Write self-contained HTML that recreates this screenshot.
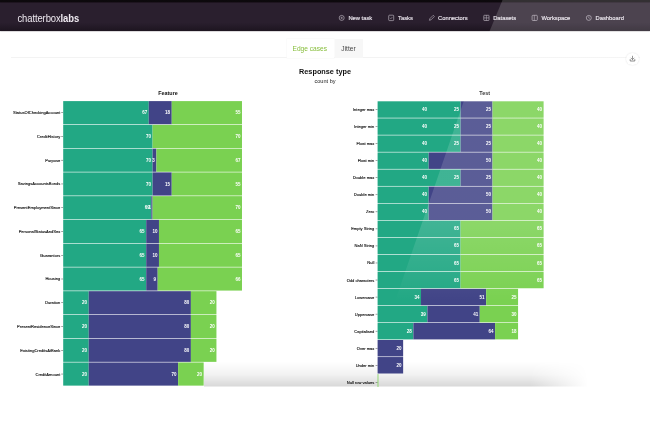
<!DOCTYPE html>
<html><head><meta charset="utf-8"><title>chatterboxlabs</title>
<style>
html,body{margin:0;padding:0;background:#fff;}
body{width:650px;height:433px;overflow:hidden;position:relative;font-family:"Liberation Sans",sans-serif;}
#screen{position:absolute;left:0;top:0;width:650px;height:386.5px;overflow:hidden;background:#fff;}
#blur{position:absolute;left:0;top:0;width:650px;height:433px;filter:blur(0.35px);}
#bezel{position:absolute;left:0;top:0;width:650px;height:3.4px;background:linear-gradient(#0c090c 0%,#0e0a0e 55%,#2a1f2e 100%);}
#hdr{position:absolute;left:0;top:3.3px;width:650px;height:28.2px;box-shadow:0 0.4px 1.2px rgba(20,10,25,0.7);background:linear-gradient(#2a1f2e 0%,#2a1f2e 70%,#1d1520 100%);}
#logo{position:absolute;left:17.5px;top:11.5px;font-size:9.45px;transform:scaleY(1.12);transform-origin:50% 60%;color:#eee9f0;letter-spacing:-0.1px;line-height:14px;white-space:nowrap;}
#logo b{font-weight:bold;}
.nav{position:absolute;top:12.9px;font-size:5.8px;-webkit-text-stroke:0.15px #e9e4ec;line-height:10px;color:#e9e4ec;white-space:nowrap;}
.tabs{position:absolute;left:11px;top:57.1px;width:629px;height:1px;background:#f3f3f3;}
.tab{position:absolute;top:39.2px;height:18.5px;font-size:6.6px;line-height:20.5px;text-align:center;white-space:nowrap;}
#t1{left:287px;width:47px;color:#86bd3a;box-shadow:0 0 0 0.5px #f7f7f7;background:#fff;text-indent:-1.5px;}
#t2{left:334.5px;width:28px;color:#444;background:#f7f7f7;}
#ttl{position:absolute;left:0;width:650px;top:66.3px;text-align:center;font-weight:bold;font-size:7.3px;line-height:11px;color:#111;}
#sub{position:absolute;left:0;width:650px;top:76.5px;text-align:center;font-size:5.6px;line-height:9px;color:#222;}
svg{position:absolute;left:0;top:0;}
.lb{font-size:4.05px;fill:#111;stroke:#111;stroke-width:0.12px;text-anchor:end;font-family:"Liberation Sans",sans-serif;}
.vl{font-size:4.5px;fill:#fff;text-anchor:end;font-weight:bold;font-family:"Liberation Sans",sans-serif;}
.ct{font-size:5.4px;fill:#111;text-anchor:middle;font-weight:bold;font-family:"Liberation Sans",sans-serif;}
#dl{position:absolute;left:626.3px;top:52.5px;width:12.4px;height:12.4px;border-radius:50%;background:#fff;box-shadow:0 0 1.5px rgba(0,0,0,0.16);}
</style></head><body>
<div id="blur"><div id="screen">
<div class="tabs"></div>
<div class="tab" id="t1">Edge cases</div>
<div class="tab" id="t2">Jitter</div>
<div id="dl"></div>
<div id="ttl">Response type</div>
<div id="sub">count by</div>
<svg width="650" height="433" viewBox="0 0 650 433">
<defs>
<linearGradient id="bs" x1="0" y1="0" x2="0" y2="1"><stop offset="0" stop-color="#000" stop-opacity="0"/><stop offset="0.5" stop-color="#000" stop-opacity="0.05"/><stop offset="1" stop-color="#000" stop-opacity="0.155"/></linearGradient>
<linearGradient id="bx" x1="0" y1="0" x2="1" y2="0"><stop offset="0" stop-color="#fff"/><stop offset="0.85" stop-color="#fff"/><stop offset="1" stop-color="#000"/></linearGradient>
<mask id="bm" maskUnits="userSpaceOnUse" x="200" y="355" width="400" height="40"><rect x="204" y="355" width="384" height="40" fill="url(#bx)"/></mask>
</defs>
<rect x="204" y="362" width="384" height="24.5" fill="url(#bs)" mask="url(#bm)"/>
<text x="168" y="95.0" class="ct">Feature</text>
<text x="484.7" y="95.2" class="ct">Test</text>
<text x="60.3" y="114.1" class="lb">StatusOfCheckingAccount</text>
<rect x="61.2" y="112.43" width="2.0" height="0.5" fill="#444"/>
<rect x="63.20" y="101.10" width="85.56" height="23.16" fill="#22a884"/>
<rect x="148.76" y="101.10" width="22.99" height="23.16" fill="#414487"/>
<rect x="171.75" y="101.10" width="70.23" height="23.16" fill="#7ad151"/>
<text x="147.2" y="114.2" class="vl">67</text>
<text x="170.1" y="114.2" class="vl">18</text>
<text x="240.4" y="114.2" class="vl">55</text>
<text x="60.3" y="137.9" class="lb">CreditHistory</text>
<rect x="61.2" y="136.19" width="2.0" height="0.5" fill="#444"/>
<rect x="63.20" y="124.86" width="89.39" height="23.16" fill="#22a884"/>
<rect x="152.59" y="124.86" width="89.39" height="23.16" fill="#7ad151"/>
<text x="151.0" y="137.9" class="vl">70</text>
<text x="240.4" y="137.9" class="vl">70</text>
<text x="60.3" y="161.6" class="lb">Purpose</text>
<rect x="61.2" y="159.95" width="2.0" height="0.5" fill="#444"/>
<rect x="63.20" y="148.62" width="89.39" height="23.16" fill="#22a884"/>
<rect x="152.59" y="148.62" width="3.83" height="23.16" fill="#414487"/>
<rect x="156.42" y="148.62" width="85.56" height="23.16" fill="#7ad151"/>
<text x="151.0" y="161.7" class="vl">70</text>
<text x="154.8" y="161.7" class="vl">3</text>
<text x="240.4" y="161.7" class="vl">67</text>
<text x="60.3" y="185.4" class="lb">SavingsAccountsBonds</text>
<rect x="61.2" y="183.71" width="2.0" height="0.5" fill="#444"/>
<rect x="63.20" y="172.38" width="89.39" height="23.16" fill="#22a884"/>
<rect x="152.59" y="172.38" width="19.15" height="23.16" fill="#414487"/>
<rect x="171.75" y="172.38" width="70.23" height="23.16" fill="#7ad151"/>
<text x="151.0" y="185.5" class="vl">70</text>
<text x="170.1" y="185.5" class="vl">15</text>
<text x="240.4" y="185.5" class="vl">55</text>
<text x="60.3" y="209.2" class="lb">PresentEmploymentSince</text>
<rect x="61.2" y="207.47" width="2.0" height="0.5" fill="#444"/>
<rect x="63.20" y="196.14" width="88.11" height="23.16" fill="#22a884"/>
<rect x="151.31" y="196.14" width="1.28" height="23.16" fill="#414487"/>
<rect x="152.59" y="196.14" width="89.39" height="23.16" fill="#7ad151"/>
<text x="149.7" y="209.2" class="vl">69</text>
<text x="151.0" y="209.2" class="vl">1</text>
<text x="240.4" y="209.2" class="vl">70</text>
<text x="60.3" y="232.9" class="lb">PersonalStatusAndSex</text>
<rect x="61.2" y="231.23" width="2.0" height="0.5" fill="#444"/>
<rect x="63.20" y="219.90" width="83.00" height="23.16" fill="#22a884"/>
<rect x="146.20" y="219.90" width="12.77" height="23.16" fill="#414487"/>
<rect x="158.97" y="219.90" width="83.00" height="23.16" fill="#7ad151"/>
<text x="144.6" y="233.0" class="vl">65</text>
<text x="157.4" y="233.0" class="vl">10</text>
<text x="240.4" y="233.0" class="vl">65</text>
<text x="60.3" y="256.7" class="lb">Guarantors</text>
<rect x="61.2" y="254.99" width="2.0" height="0.5" fill="#444"/>
<rect x="63.20" y="243.66" width="83.00" height="23.16" fill="#22a884"/>
<rect x="146.20" y="243.66" width="12.77" height="23.16" fill="#414487"/>
<rect x="158.97" y="243.66" width="83.00" height="23.16" fill="#7ad151"/>
<text x="144.6" y="256.7" class="vl">65</text>
<text x="157.4" y="256.7" class="vl">10</text>
<text x="240.4" y="256.7" class="vl">65</text>
<text x="60.3" y="280.4" class="lb">Housing</text>
<rect x="61.2" y="278.75" width="2.0" height="0.5" fill="#444"/>
<rect x="63.20" y="267.42" width="83.00" height="23.16" fill="#22a884"/>
<rect x="146.20" y="267.42" width="11.49" height="23.16" fill="#414487"/>
<rect x="157.70" y="267.42" width="84.28" height="23.16" fill="#7ad151"/>
<text x="144.6" y="280.5" class="vl">65</text>
<text x="156.1" y="280.5" class="vl">9</text>
<text x="240.4" y="280.5" class="vl">66</text>
<text x="60.3" y="304.2" class="lb">Duration</text>
<rect x="61.2" y="302.51" width="2.0" height="0.5" fill="#444"/>
<rect x="63.20" y="291.18" width="25.54" height="23.16" fill="#22a884"/>
<rect x="88.74" y="291.18" width="102.16" height="23.16" fill="#414487"/>
<rect x="190.90" y="291.18" width="25.54" height="23.16" fill="#7ad151"/>
<text x="87.1" y="304.3" class="vl">20</text>
<text x="189.3" y="304.3" class="vl">80</text>
<text x="214.8" y="304.3" class="vl">20</text>
<text x="60.3" y="328.0" class="lb">PresentResidenceSince</text>
<rect x="61.2" y="326.27" width="2.0" height="0.5" fill="#444"/>
<rect x="63.20" y="314.94" width="25.54" height="23.16" fill="#22a884"/>
<rect x="88.74" y="314.94" width="102.16" height="23.16" fill="#414487"/>
<rect x="190.90" y="314.94" width="25.54" height="23.16" fill="#7ad151"/>
<text x="87.1" y="328.0" class="vl">20</text>
<text x="189.3" y="328.0" class="vl">80</text>
<text x="214.8" y="328.0" class="vl">20</text>
<text x="60.3" y="351.7" class="lb">ExistingCreditsAtBank</text>
<rect x="61.2" y="350.03" width="2.0" height="0.5" fill="#444"/>
<rect x="63.20" y="338.70" width="25.54" height="23.16" fill="#22a884"/>
<rect x="88.74" y="338.70" width="102.16" height="23.16" fill="#414487"/>
<rect x="190.90" y="338.70" width="25.54" height="23.16" fill="#7ad151"/>
<text x="87.1" y="351.8" class="vl">20</text>
<text x="189.3" y="351.8" class="vl">80</text>
<text x="214.8" y="351.8" class="vl">20</text>
<text x="60.3" y="375.5" class="lb">CreditAmount</text>
<rect x="61.2" y="373.79" width="2.0" height="0.5" fill="#444"/>
<rect x="63.20" y="362.46" width="25.54" height="23.16" fill="#22a884"/>
<rect x="88.74" y="362.46" width="89.39" height="23.16" fill="#414487"/>
<rect x="178.13" y="362.46" width="25.54" height="23.16" fill="#7ad151"/>
<text x="87.1" y="375.5" class="vl">20</text>
<text x="176.5" y="375.5" class="vl">70</text>
<text x="202.1" y="375.5" class="vl">20</text>
<text x="374.3" y="111.0" class="lb">Integer max</text>
<rect x="375.6" y="109.28" width="2.0" height="0.5" fill="#444"/>
<rect x="377.60" y="101.30" width="83.00" height="16.45" fill="#22a884"/>
<rect x="460.61" y="101.30" width="31.92" height="16.45" fill="#414487"/>
<rect x="492.53" y="101.30" width="51.08" height="16.45" fill="#7ad151"/>
<text x="427.1" y="111.0" class="vl">40</text>
<text x="459.0" y="111.0" class="vl">25</text>
<text x="490.9" y="111.0" class="vl">25</text>
<text x="542.0" y="111.0" class="vl">40</text>
<text x="374.3" y="128.0" class="lb">Integer min</text>
<rect x="375.6" y="126.33" width="2.0" height="0.5" fill="#444"/>
<rect x="377.60" y="118.35" width="83.00" height="16.45" fill="#22a884"/>
<rect x="460.61" y="118.35" width="31.92" height="16.45" fill="#414487"/>
<rect x="492.53" y="118.35" width="51.08" height="16.45" fill="#7ad151"/>
<text x="427.1" y="128.1" class="vl">40</text>
<text x="459.0" y="128.1" class="vl">25</text>
<text x="490.9" y="128.1" class="vl">25</text>
<text x="542.0" y="128.1" class="vl">40</text>
<text x="374.3" y="145.1" class="lb">Float max</text>
<rect x="375.6" y="143.38" width="2.0" height="0.5" fill="#444"/>
<rect x="377.60" y="135.40" width="83.00" height="16.45" fill="#22a884"/>
<rect x="460.61" y="135.40" width="31.92" height="16.45" fill="#414487"/>
<rect x="492.53" y="135.40" width="51.08" height="16.45" fill="#7ad151"/>
<text x="427.1" y="145.1" class="vl">40</text>
<text x="459.0" y="145.1" class="vl">25</text>
<text x="490.9" y="145.1" class="vl">25</text>
<text x="542.0" y="145.1" class="vl">40</text>
<text x="374.3" y="162.1" class="lb">Float min</text>
<rect x="375.6" y="160.43" width="2.0" height="0.5" fill="#444"/>
<rect x="377.60" y="152.45" width="51.08" height="16.45" fill="#22a884"/>
<rect x="428.68" y="152.45" width="63.85" height="16.45" fill="#414487"/>
<rect x="492.53" y="152.45" width="51.08" height="16.45" fill="#7ad151"/>
<text x="427.1" y="162.2" class="vl">40</text>
<text x="490.9" y="162.2" class="vl">50</text>
<text x="542.0" y="162.2" class="vl">40</text>
<text x="374.3" y="179.2" class="lb">Double max</text>
<rect x="375.6" y="177.47" width="2.0" height="0.5" fill="#444"/>
<rect x="377.60" y="169.50" width="83.00" height="16.45" fill="#22a884"/>
<rect x="460.61" y="169.50" width="31.92" height="16.45" fill="#414487"/>
<rect x="492.53" y="169.50" width="51.08" height="16.45" fill="#7ad151"/>
<text x="427.1" y="179.2" class="vl">40</text>
<text x="459.0" y="179.2" class="vl">25</text>
<text x="490.9" y="179.2" class="vl">25</text>
<text x="542.0" y="179.2" class="vl">40</text>
<text x="374.3" y="196.2" class="lb">Double min</text>
<rect x="375.6" y="194.53" width="2.0" height="0.5" fill="#444"/>
<rect x="377.60" y="186.55" width="51.08" height="16.45" fill="#22a884"/>
<rect x="428.68" y="186.55" width="63.85" height="16.45" fill="#414487"/>
<rect x="492.53" y="186.55" width="51.08" height="16.45" fill="#7ad151"/>
<text x="427.1" y="196.3" class="vl">40</text>
<text x="490.9" y="196.3" class="vl">50</text>
<text x="542.0" y="196.3" class="vl">40</text>
<text x="374.3" y="213.3" class="lb">Zero</text>
<rect x="375.6" y="211.58" width="2.0" height="0.5" fill="#444"/>
<rect x="377.60" y="203.60" width="51.08" height="16.45" fill="#22a884"/>
<rect x="428.68" y="203.60" width="63.85" height="16.45" fill="#414487"/>
<rect x="492.53" y="203.60" width="51.08" height="16.45" fill="#7ad151"/>
<text x="427.1" y="213.3" class="vl">40</text>
<text x="490.9" y="213.3" class="vl">50</text>
<text x="542.0" y="213.3" class="vl">40</text>
<text x="374.3" y="230.3" class="lb">Empty String</text>
<rect x="375.6" y="228.63" width="2.0" height="0.5" fill="#444"/>
<rect x="377.60" y="220.65" width="83.00" height="16.45" fill="#22a884"/>
<rect x="460.61" y="220.65" width="83.00" height="16.45" fill="#7ad151"/>
<text x="459.0" y="230.4" class="vl">65</text>
<text x="542.0" y="230.4" class="vl">65</text>
<text x="374.3" y="247.4" class="lb">NaN String</text>
<rect x="375.6" y="245.68" width="2.0" height="0.5" fill="#444"/>
<rect x="377.60" y="237.70" width="83.00" height="16.45" fill="#22a884"/>
<rect x="460.61" y="237.70" width="83.00" height="16.45" fill="#7ad151"/>
<text x="459.0" y="247.4" class="vl">65</text>
<text x="542.0" y="247.4" class="vl">65</text>
<text x="374.3" y="264.4" class="lb">Null</text>
<rect x="375.6" y="262.73" width="2.0" height="0.5" fill="#444"/>
<rect x="377.60" y="254.75" width="83.00" height="16.45" fill="#22a884"/>
<rect x="460.61" y="254.75" width="83.00" height="16.45" fill="#7ad151"/>
<text x="459.0" y="264.5" class="vl">65</text>
<text x="542.0" y="264.5" class="vl">65</text>
<text x="374.3" y="281.5" class="lb">Odd characters</text>
<rect x="375.6" y="279.77" width="2.0" height="0.5" fill="#444"/>
<rect x="377.60" y="271.80" width="83.00" height="16.45" fill="#22a884"/>
<rect x="460.61" y="271.80" width="83.00" height="16.45" fill="#7ad151"/>
<text x="459.0" y="281.5" class="vl">65</text>
<text x="542.0" y="281.5" class="vl">65</text>
<text x="374.3" y="298.5" class="lb">Lowercase</text>
<rect x="375.6" y="296.82" width="2.0" height="0.5" fill="#444"/>
<rect x="377.60" y="288.85" width="43.42" height="16.45" fill="#22a884"/>
<rect x="421.02" y="288.85" width="65.13" height="16.45" fill="#414487"/>
<rect x="486.15" y="288.85" width="31.92" height="16.45" fill="#7ad151"/>
<text x="419.4" y="298.6" class="vl">34</text>
<text x="484.5" y="298.6" class="vl">51</text>
<text x="516.5" y="298.6" class="vl">25</text>
<text x="374.3" y="315.6" class="lb">Uppercase</text>
<rect x="375.6" y="313.88" width="2.0" height="0.5" fill="#444"/>
<rect x="377.60" y="305.90" width="49.80" height="16.45" fill="#22a884"/>
<rect x="427.40" y="305.90" width="52.36" height="16.45" fill="#414487"/>
<rect x="479.76" y="305.90" width="38.31" height="16.45" fill="#7ad151"/>
<text x="425.8" y="315.6" class="vl">39</text>
<text x="478.2" y="315.6" class="vl">41</text>
<text x="516.5" y="315.6" class="vl">30</text>
<text x="374.3" y="332.6" class="lb">Capitalised</text>
<rect x="375.6" y="330.92" width="2.0" height="0.5" fill="#444"/>
<rect x="377.60" y="322.95" width="35.76" height="16.45" fill="#22a884"/>
<rect x="413.36" y="322.95" width="81.73" height="16.45" fill="#414487"/>
<rect x="495.08" y="322.95" width="22.99" height="16.45" fill="#7ad151"/>
<text x="411.8" y="332.7" class="vl">28</text>
<text x="493.5" y="332.7" class="vl">64</text>
<text x="516.5" y="332.7" class="vl">18</text>
<text x="374.3" y="349.7" class="lb">Over max</text>
<rect x="375.6" y="347.98" width="2.0" height="0.5" fill="#444"/>
<rect x="377.60" y="340.00" width="25.54" height="16.45" fill="#414487"/>
<text x="401.5" y="349.7" class="vl">20</text>
<text x="374.3" y="366.7" class="lb">Under min</text>
<rect x="375.6" y="365.02" width="2.0" height="0.5" fill="#444"/>
<rect x="377.60" y="357.05" width="25.54" height="16.45" fill="#414487"/>
<text x="401.5" y="366.8" class="vl">20</text>
<text x="374.3" y="383.8" class="lb">Null row values</text>
<rect x="375.6" y="382.07" width="2.0" height="0.5" fill="#444"/>
<rect x="377.60" y="374.10" width="0.77" height="16.45" fill="#7ad151"/>
<g fill="none" stroke="#555" stroke-width="0.7" stroke-linecap="round" stroke-linejoin="round">
<path d="M632.5 56.2v3.2M631 58.1l1.5 1.5 1.5-1.5"/><path d="M630.2 59.6v1.4h4.6v-1.4" stroke-width="0.8"/>
</g>
<!-- glare -->
<defs><linearGradient id="gl" gradientUnits="userSpaceOnUse" x1="0" y1="0" x2="0" y2="386"><stop offset="0" stop-color="#fff" stop-opacity="0.135"/><stop offset="0.58" stop-color="#fff" stop-opacity="0.135"/><stop offset="0.70" stop-color="#fff" stop-opacity="0.06"/><stop offset="0.78" stop-color="#fff" stop-opacity="0"/></linearGradient></defs>
<polygon points="502.5,0 650,0 650,386 366,386 434.2,187.4 463.5,102 489.5,31" fill="url(#gl)"/>
</svg>
<div id="bezel"></div>
<div id="hdr"></div>
<div id="logo">chatterbox<b>labs</b></div>
<div class="nav" style="left:348.4px">New task</div>
<div class="nav" style="left:398.1px">Tasks</div>
<div class="nav" style="left:438px">Connectors</div>
<div class="nav" style="left:493.2px">Datasets</div>
<div class="nav" style="left:541.4px">Workspace</div>
<div class="nav" style="left:595.5px">Dashboard</div>
<svg width="650" height="40" viewBox="0 0 650 40">
<g fill="none" stroke="#c9c3cd" stroke-width="0.6">
<circle cx="341.7" cy="17.9" r="2.5"/><path d="M341.7 16.7v2.4M340.5 17.9h2.4" stroke-width="0.5"/>
<rect x="388.7" y="15.2" width="5" height="5.4" rx="0.8"/><path d="M390.1 17.9l0.8 0.8 1.4-1.6" stroke-width="0.5"/>
<path d="M429.4 20.3l0.5-1.7 3.3-3.3 1.2 1.2-3.3 3.3z" stroke-width="0.55"/>
<rect x="483.8" y="15.3" width="5.2" height="5.2" rx="0.5"/><path d="M486.4 15.3v5.2M483.8 17.9h5.2" stroke-width="0.5"/>
<rect x="532.1" y="15.3" width="5.2" height="5.2" rx="0.8"/><path d="M534.3 15.3v5.2" stroke-width="0.5"/>
<circle cx="588.8" cy="17.9" r="2.5"/><path d="M588.8 16.3v1.8l0.9 0.7" stroke-width="0.5"/>
</g>
<polygon points="502.5,0 650,0 650,33.5 488.6,33.5" fill="#fff" fill-opacity="0.16"/>
</svg>
</div></div>
</body></html>
